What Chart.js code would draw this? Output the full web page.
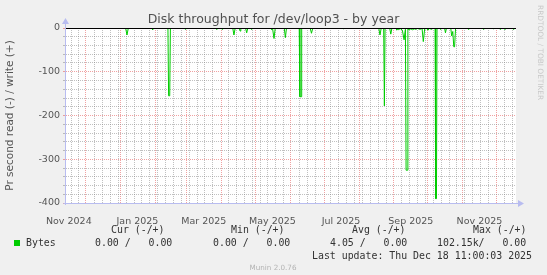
<!DOCTYPE html>
<html lang="en">
<head>
<meta charset="UTF-8">
<title>Disk throughput for /dev/loop3 - by year</title>
<script src="https://cdn.jsdelivr.net/npm/chart.js"></script>
<style>
  html, body { margin: 0; padding: 0; background: #f0f0f0; }
  canvas { display: block; }
</style>
</head>
<body>
<canvas id="chart" width="547" height="275"></canvas>
<script>
// x is in days; day 0 is the left edge of the graph (13 Nov 2024 12:00 UTC), 400 days wide
const T0 = Date.UTC(2024, 10, 13, 12);
const SPAN = 400;

// bytes read per second (drawn negative) as [day, value]
const readPoints = [
  [0, 0],
  [53, 0], [54.2, -16], [55.4, 0],
  [76.5, 0], [77, -4], [77.5, 0],
  [90.6, 0], [91.2, -155], [92.2, -155], [92.8, 0],
  [105.5, 0], [106, -3], [106.5, 0],
  [133.5, 0], [134, -3], [134.5, 0],
  [138.2, 0], [138.7, -3], [139.2, 0],
  [148.2, 0], [149.3, -16], [150.4, 0],
  [154, 0], [154.7, -7], [155.4, 0],
  [159.6, 0], [160.6, -11], [161.6, 0],
  [164.5, 0], [165, -3], [165.5, 0],
  [172.8, 0], [173.3, -2], [173.8, 0],
  [182, 0], [182.8, -4], [183.6, -1], [184.9, -24], [186, 0],
  [194, 0], [195, -22], [196, 0],
  [207.3, 0], [207.9, -157], [208.9, -157], [209.5, 0],
  [217, 0], [218.2, -12], [219.4, 0],
  [231.2, 0], [231.7, -2], [232.2, 0],
  [246, 0], [246.5, -2], [247, 0],
  [278, 0], [279.1, -16], [280.2, 0],
  [282.4, 0], [283, -178], [283.6, 0],
  [287.7, 0], [288.7, -14], [289.7, 0],
  [293.3, 0], [294, -5], [295, -2], [295.8, -4], [297, -1], [299, -5],
  [300.5, -27], [301.7, -3], [302.3, -325], [303.3, -325], [303.9, -2],
  [305, -4], [306.5, -2], [308, -4], [309.5, -2], [311, -3], [312.5, -1],
  [314.7, -3], [316.5, -1], [317.6, -31], [318.8, -2], [320.5, -1],
  [321.8, -5], [323, -1], [325, -3], [326.5, 0],
  [328.1, 0], [328.6, -390], [329.3, -390], [329.8, 0],
  [332.5, 0], [333, -3], [333.5, 0],
  [336.5, 0], [337.3, -11], [338.2, 0],
  [342, 0], [342.8, -18], [343.8, -8], [344.7, -43], [345.4, -43], [346.3, 0],
  [357, 0], [357.6, -3], [358.2, 0],
  [370.5, 0], [371, -3], [371.5, 0],
  [379.3, 0], [379.8, -2], [380.3, 0],
  [385.3, 0], [385.8, -3], [386.3, 0],
  [389.7, 0], [390.2, -3], [390.7, 0],
  [397, 0], [397.6, -3], [398.2, 0],
  [399.2, 0]
];
// bytes written per second (drawn positive): flat zero
const writePoints = [[0, 0], [399.2, 0]];

// month labels sit in the middle of their month
const xLabels = ['Nov 2024', 'Jan 2025', 'Mar 2025', 'May 2025', 'Jul 2025', 'Sep 2025', 'Nov 2025'];
const xLabelDates = ['2024-11-16', '2025-01-16', '2025-03-16', '2025-05-16', '2025-07-16', '2025-09-16', '2025-11-16'];
const yMin = -400, yMax = 0, yMinorStep = 20, yMajorStep = 100;

const legendHeads = ['Cur (-/+)', 'Min (-/+)', 'Avg (-/+)', 'Max (-/+)'];
const legendValues = ['0.00 /   0.00', '0.00 /   0.00', '4.05 /   0.00', '102.15k/   0.00'];
const legendName = 'Bytes';
const lastUpdate = 'Last update: Thu Dec 18 11:00:03 2025';

const GREEN = '#00cc00';
const RED_GRID = 'rgba(230,100,100,0.6)';
const GRAY_GRID = 'rgba(130,130,130,0.5)';
const AXIS = '#b8bcf0';

function dayOf(ms) { return (ms - T0) / 86400000; }
function dayOfStr(s) { const p = s.split('-').map(Number); return dayOf(Date.UTC(p[0], p[1] - 1, p[2])); }

// month starts (red) and weekly lines (gray) for the vertical grid
const monthDays = [];
for (let m = 0; m < 15; m++) {
  const d = dayOf(Date.UTC(2024, 10 + m, 1));
  if (d > 0 && d < SPAN) monthDays.push(d);
}
const weekDays = [];
for (let d = dayOf(Date.UTC(2024, 10, 18)); d < SPAN; d += 7) {
  if (!monthDays.some(m => Math.abs(m - d) < 2)) weekDays.push(d);
}

const yTicks = [];
for (let v = yMin; v <= yMax; v += yMinorStep) yTicks.push(v);

const chromePlugin = {
  id: 'munin_chrome',
  beforeDraw(chart) {
    const ctx = chart.ctx, a = chart.chartArea;
    ctx.save();
    ctx.fillStyle = '#f0f0f0';
    ctx.fillRect(0, 0, chart.width, chart.height);
    ctx.fillStyle = '#ffffff';
    ctx.fillRect(a.left, a.top, a.right - a.left, a.bottom - a.top);
    ctx.restore();
  },
  afterDatasetsDraw(chart) {
    const ctx = chart.ctx, a = chart.chartArea;
    const y0 = Math.round(chart.scales.y.getPixelForValue(0)) + 0.5;
    ctx.save();
    ctx.strokeStyle = '#000';
    ctx.lineWidth = 1;
    ctx.beginPath();
    ctx.moveTo(a.left, y0);
    ctx.lineTo(a.right, y0);
    ctx.stroke();
    ctx.restore();
  },
  afterDraw(chart) {
    const ctx = chart.ctx, a = chart.chartArea;
    ctx.save();
    // axes with arrows
    ctx.strokeStyle = AXIS;
    ctx.fillStyle = AXIS;
    ctx.lineWidth = 1;
    const yb = Math.round(a.bottom) + 0.5, xl = Math.round(a.left) - 0.5;
    ctx.beginPath();
    ctx.moveTo(xl - 2, yb); ctx.lineTo(a.right + 3, yb);
    ctx.moveTo(xl, a.bottom + 2); ctx.lineTo(xl, a.top - 5);
    ctx.stroke();
    ctx.beginPath();
    ctx.moveTo(a.right + 8, yb); ctx.lineTo(a.right + 2, yb - 3.5); ctx.lineTo(a.right + 2, yb + 3.5);
    ctx.closePath(); ctx.fill();
    ctx.beginPath();
    ctx.moveTo(xl, a.top - 10); ctx.lineTo(xl - 3.5, a.top - 4); ctx.lineTo(xl + 3.5, a.top - 4);
    ctx.closePath(); ctx.fill();

    // legend
    ctx.font = '9.9px "DejaVu Sans Mono", monospace';
    ctx.fillStyle = '#333';
    ctx.textBaseline = 'middle';
    const headX = [111, 231, 352, 473];
    const valX = [95, 213, 330, 437];
    legendHeads.forEach((t, i) => ctx.fillText(t, headX[i], 230));
    legendValues.forEach((t, i) => ctx.fillText(t, valX[i], 243));
    ctx.fillText(legendName, 26, 243);
    ctx.fillText(lastUpdate, 312, 256);
    ctx.fillStyle = GREEN;
    ctx.fillRect(14, 240, 6, 6);

    ctx.font = '7.2px "DejaVu Sans", sans-serif';
    ctx.fillStyle = '#b4b4b4';
    ctx.textAlign = 'center';
    ctx.fillText('Munin 2.0.76', 273, 268);

    ctx.translate(540, 5);
    ctx.rotate(Math.PI / 2);
    ctx.textAlign = 'left';
    ctx.font = '7.4px "DejaVu Sans", sans-serif';
    ctx.fillStyle = '#c8c8c8';
    ctx.fillText('RRDTOOL / TOBI OETIKER', 0, 0);
    ctx.restore();
  }
};

const tickFont = { family: 'DejaVu Sans', size: 9.5 };

// a label-less axis that only draws vertical grid lines at the given days
function gridAxis(days, color) {
  return {
    type: 'linear',
    position: 'bottom',
    min: 0,
    max: SPAN,
    afterBuildTicks: s => { s.ticks = days.map(d => ({ value: d })); },
    afterFit: s => { s.height = 0; },
    ticks: { display: false, autoSkip: false },
    grid: { drawTicks: false, color: color, lineWidth: 1 },
    border: { display: false, dash: [1, 1] }
  };
}

new Chart(document.getElementById('chart'), {
  type: 'line',
  data: {
    datasets: [
      {
        label: 'Bytes read',
        data: readPoints.map(p => ({ x: p[0], y: p[1] })),
        borderColor: GREEN,
        borderWidth: 1,
        pointRadius: 0,
        fill: false,
        tension: 0
      },
      {
        label: 'Bytes written',
        data: writePoints.map(p => ({ x: p[0], y: p[1] })),
        borderColor: GREEN,
        borderWidth: 1,
        pointRadius: 0,
        fill: false,
        tension: 0
      }
    ]
  },
  options: {
    responsive: false,
    animation: false,
    devicePixelRatio: 1,
    events: [],
    layout: { padding: 0 },
    plugins: {
      legend: { display: false },
      tooltip: { enabled: false },
      title: {
        display: true,
        text: 'Disk throughput for /dev/loop3 - by year',
        color: '#505050',
        font: { family: 'DejaVu Sans', size: 12.5, weight: 'normal' },
        padding: { top: 12, bottom: 1 }
      }
    },
    scales: {
      x: {
        type: 'linear',
        position: 'bottom',
        min: 0,
        max: SPAN,
        afterBuildTicks: s => { s.ticks = xLabelDates.map(d => ({ value: dayOfStr(d) })); },
        afterFit: s => { s.height = 72; },
        ticks: {
          autoSkip: false,
          maxRotation: 0,
          padding: 5,
          color: '#555',
          font: tickFont,
          callback: (v, i) => xLabels[i]
        },
        grid: { display: false },
        border: { display: false }
      },
      xweek: gridAxis(weekDays, GRAY_GRID),
      xmonth: gridAxis(monthDays, RED_GRID),
      y: {
        type: 'linear',
        min: yMin,
        max: yMax,
        afterBuildTicks: s => { s.ticks = yTicks.map(v => ({ value: v })); },
        afterFit: s => { s.width = 66; },
        ticks: {
          autoSkip: false,
          padding: 3,
          color: '#555',
          font: tickFont,
          callback: v => (v % yMajorStep === 0 ? String(v) : '')
        },
        grid: {
          drawTicks: true,
          tickLength: 3,
          color: c => (c.tick.value % yMajorStep === 0 ? RED_GRID : GRAY_GRID)
        },
        border: { display: false, dash: [1, 1] },
        title: {
          display: true,
          text: 'Pr second read (-) / write (+)',
          color: '#555',
          font: { family: 'DejaVu Sans', size: 10.5 },
          padding: { top: 4, bottom: 0 }
        }
      },
      // empty right-hand gutter so the title centres on the whole canvas
      gutter: {
        type: 'linear',
        position: 'right',
        display: true,
        afterFit: s => { s.width = 31; },
        ticks: { display: false },
        grid: { display: false },
        border: { display: false }
      }
    }
  },
  plugins: [chromePlugin]
});
</script>
</body>
</html>
